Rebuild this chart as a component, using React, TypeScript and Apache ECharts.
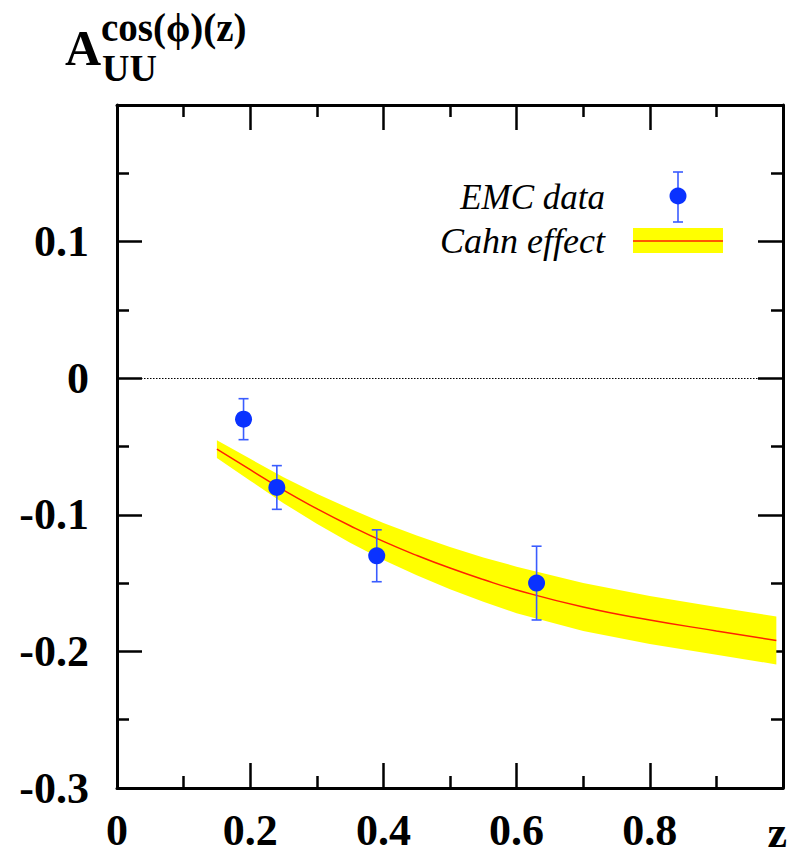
import React, { useEffect, useRef } from "react";
import * as echarts from "echarts";

// EMC data points
const emcZ = [0.19, 0.24, 0.39, 0.63];
const emcA = [-0.030, -0.080, -0.130, -0.150];
const emcErr = [0.015, 0.016, 0.019, 0.027];

// Cahn effect curve and band
const cahnZ = [0.15, 0.2, 0.25, 0.3, 0.35, 0.4, 0.45, 0.5, 0.55, 0.6, 0.7, 0.8, 0.9, 0.99];
const cahnCenter = [-0.052, -0.067, -0.082, -0.0955, -0.108, -0.1195, -0.1297, -0.139, -0.1474, -0.155, -0.1675, -0.177, -0.185, -0.192];
const cahnUpper = [-0.0455, -0.059, -0.0725, -0.0845, -0.0955, -0.106, -0.1152, -0.1235, -0.1312, -0.138, -0.150, -0.1595, -0.1675, -0.1745];
const cahnLower = [-0.0585, -0.075, -0.0915, -0.1065, -0.1205, -0.133, -0.1442, -0.1545, -0.1636, -0.172, -0.185, -0.1945, -0.2025, -0.2095];

const xTickLabels: Record<string, string> = { "0": "0", "0.2": "0.2", "0.4": "0.4", "0.6": "0.6", "0.8": "0.8" };
const yTickLabels: Record<string, string> = { "0.1": "0.1", "0": "0", "-0.1": "-0.1", "-0.2": "-0.2", "-0.3": "-0.3" };
const xAxisName = "z";
const legendNames = ["EMC data", "Cahn effect"];

const SERIF = "'Liberation Serif', 'Times New Roman', serif";
const BLUE = "#0a32ff";
const BAR_BLUE = "#3a5cff";
const RED = "#ff2200";
const YELLOW = "#ffff00";

export default function App() {
  const ref = useRef<HTMLDivElement>(null);
  useEffect(() => {
    if (!ref.current) return;
    const chart = echarts.init(ref.current, null, { renderer: "svg" });

    const axisCommon = {
      axisLine: { show: true, onZero: false, lineStyle: { color: "#000", width: 3 } },
      axisTick: { show: true, inside: true, length: 25, lineStyle: { color: "#000", width: 2.5 } },
      minorTick: { show: true, splitNumber: 2, length: 12, lineStyle: { color: "#000", width: 2.5 } },
      splitLine: { show: false },
      minorSplitLine: { show: false },
    };

    const fmt = (v: number, map: Record<string, string>) => {
      const k = String(Math.round(v * 100) / 100);
      return map[k] ?? "";
    };

    const bandData = cahnZ.map((z, i) => [z, cahnLower[i], cahnUpper[i]]);

    const option: any = {
      animation: false,
      backgroundColor: "#fff",
      grid: { left: 117, top: 105, right: 7, bottom: 67, containLabel: false },
      xAxis: [
        {
          type: "value", min: 0, max: 1, interval: 0.2, position: "bottom",
          ...axisCommon,
          axisLabel: {
            show: true, margin: 20, color: "#000", fontFamily: SERIF, fontWeight: "bold", fontSize: 44,
            formatter: (v: number) => fmt(v, xTickLabels),
          },
        },
        {
          type: "value", min: 0, max: 1, interval: 0.2, position: "top",
          ...axisCommon,
          axisLabel: { show: false },
        },
      ],
      yAxis: [
        {
          type: "value", min: -0.3, max: 0.2, interval: 0.1, position: "left",
          ...axisCommon,
          axisLabel: {
            show: true, margin: 28, color: "#000", fontFamily: SERIF, fontWeight: "bold", fontSize: 44,
            formatter: (v: number) => fmt(v, yTickLabels),
          },
        },
        {
          type: "value", min: -0.3, max: 0.2, interval: 0.1, position: "right",
          ...axisCommon,
          axisLabel: { show: false },
        },
      ],
      series: [
        {
          type: "custom", name: "band", z: 1, silent: true,
          data: bandData,
          renderItem: (params: any, api: any) => {
            if (params.dataIndex !== 0) return null;
            const top = bandData.map((d) => api.coord([d[0], d[2]]));
            const bottom = bandData.map((d) => api.coord([d[0], d[1]])).reverse();
            return {
              type: "polygon",
              shape: { points: top.concat(bottom) },
              style: { fill: YELLOW, stroke: "none" },
            };
          },
        },
        {
          type: "line", name: legendNames[1],
          data: cahnZ.map((z, i) => [z, cahnCenter[i]]),
          symbol: "none", smooth: true, lineStyle: { color: RED, width: 1.5 }, z: 2,
          markLine: {
            silent: true, symbol: "none", label: { show: false },
            lineStyle: { color: "#000", type: [1.5, 1.5], width: 1 },
            data: [{ yAxis: 0 }],
          },
        },
        {
          type: "custom", name: "errors", z: 3,
          data: emcZ.map((z, i) => [z, emcA[i], emcA[i] - emcErr[i], emcA[i] + emcErr[i]]),
          renderItem: (params: any, api: any) => {
            const x = api.value(0);
            const lo = api.coord([x, api.value(2)]);
            const hi = api.coord([x, api.value(3)]);
            const cap = 5;
            const style = { stroke: BAR_BLUE, lineWidth: 1.6 };
            return {
              type: "group",
              children: [
                { type: "line", shape: { x1: lo[0], y1: lo[1], x2: hi[0], y2: hi[1] }, style },
                { type: "line", shape: { x1: lo[0] - cap, y1: lo[1], x2: lo[0] + cap, y2: lo[1] }, style },
                { type: "line", shape: { x1: hi[0] - cap, y1: hi[1], x2: hi[0] + cap, y2: hi[1] }, style },
              ],
            };
          },
        },
        {
          type: "scatter", name: legendNames[0], z: 4,
          data: emcZ.map((z, i) => [z, emcA[i]]),
          symbol: "circle", symbolSize: 17, itemStyle: { color: BLUE, opacity: 1 },
        },
      ],
      graphic: [
        // title
        { type: "text", x: 65, y: 23, style: { text: "A", font: `bold 50px ${SERIF}`, fill: "#000", verticalAlign: "top" } },
        { type: "text", x: 101, y: 8, style: { text: "cos(ϕ)(z)", font: `bold 39px ${SERIF}`, fill: "#000", verticalAlign: "top" } },
        { type: "text", x: 102, y: 49, style: { text: "UU", font: `bold 38px ${SERIF}`, fill: "#000", verticalAlign: "top" } },
        // x axis name
        { type: "text", x: 787, y: 854, style: { text: xAxisName, font: `bold 44px ${SERIF}`, fill: "#000", align: "right", verticalAlign: "bottom" } },
        // legend
        { type: "text", x: 605, y: 180, style: { text: legendNames[0], font: `italic 35px ${SERIF}`, fill: "#000", align: "right", verticalAlign: "top" } },
        { type: "text", x: 605, y: 223, style: { text: legendNames[1], font: `italic 36px ${SERIF}`, fill: "#000", align: "right", verticalAlign: "top" } },
        { type: "line", shape: { x1: 678, y1: 172, x2: 678, y2: 222 }, style: { stroke: BAR_BLUE, lineWidth: 1.6 } },
        { type: "line", shape: { x1: 673, y1: 172, x2: 683, y2: 172 }, style: { stroke: BAR_BLUE, lineWidth: 1.6 } },
        { type: "line", shape: { x1: 673, y1: 222, x2: 683, y2: 222 }, style: { stroke: BAR_BLUE, lineWidth: 1.6 } },
        { type: "circle", shape: { cx: 678, cy: 196, r: 8.5 }, style: { fill: BLUE } },
        { type: "rect", shape: { x: 633, y: 228, width: 90, height: 25 }, style: { fill: YELLOW } },
        { type: "line", shape: { x1: 633, y1: 241, x2: 723, y2: 241 }, style: { stroke: RED, lineWidth: 1.5 } },
      ],
    };

    chart.setOption(option);
    return () => chart.dispose();
  }, []);
  return <div ref={ref} style={{ width: 790, height: 855, position: "absolute", left: 0, top: 0 }} />;
}
